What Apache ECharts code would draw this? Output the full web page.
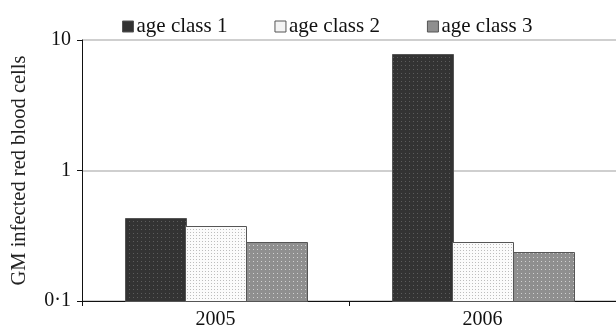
<!DOCTYPE html>
<html>
<head>
<meta charset="utf-8">
<script src="https://cdn.jsdelivr.net/npm/echarts@6/dist/echarts.min.js"></script>
<style>
html,body{margin:0;padding:0;background:#fff;}
#chart{width:616px;height:331px;}
</style>
</head>
<body>
<div id="chart"></div>
<script>
const years = ['2005', '2006'];
const seriesNames = ['age class 1', 'age class 2', 'age class 3'];
const class1 = [0.43, 7.8];
const class2 = [0.375, 0.283];
const class3 = [0.283, 0.236];
const yTicks = [0.1, 1, 10];

// dotted fill textures for the three bar styles
function dots(bg, dot, step) {
  const c = document.createElement('canvas');
  c.width = step; c.height = step;
  const g = c.getContext('2d');
  g.fillStyle = bg; g.fillRect(0, 0, step, step);
  g.fillStyle = dot;
  g.fillRect(1, 1, 1, 1);
  return { image: c, repeat: 'repeat' };
}
const fills = [
  dots('#333333', '#5c5c5c', 4),
  dots('#fbfbfb', '#bdbdbd', 3),
  dots('#8f8f8f', '#d0d0d0', 4)
];
const legendColors = ['#333333', '#f4f4f4', '#8f8f8f'];

const font = 'Liberation Serif, Times New Roman, serif';
const chart = echarts.init(document.getElementById('chart'));
const data = [class1, class2, class3];
const groupFill = 0.68;   // share of each category band covered by the bar group

// bars rise from the bottom of the log axis (0.1) rather than from 1
function barRenderer(idx) {
  return function (params, api) {
    const cat = api.value(0);
    const val = api.value(1);
    const band = api.size([1, 0])[0];
    const bw = band * groupFill / seriesNames.length;
    const top = api.coord([cat, val]);
    const base = api.coord([cat, yTicks[0]]);
    const x = top[0] - band * groupFill / 2 + idx * bw;
    return {
      type: 'rect',
      shape: { x: Math.round(x) + 0.5, y: Math.round(top[1]) + 0.5, width: Math.round(bw), height: Math.round(base[1]) - Math.round(top[1]) },
      style: { fill: fills[idx], stroke: '#555', lineWidth: 1 }
    };
  };
}

chart.setOption({
  animation: false,
  textStyle: { fontFamily: font },
  legend: {
    top: 11,
    left: 117,
    itemWidth: 11,
    itemHeight: 11,
    itemGap: 47,
    icon: 'rect',
    textStyle: { fontFamily: font, fontSize: 21, color: '#111', padding: [0, 0, 0, -2] },
    data: seriesNames.map((n, i) => ({ name: n, itemStyle: { color: legendColors[i], borderColor: '#555', borderWidth: 1 } }))
  },
  grid: { left: 82, right: -4, top: 40, bottom: 30, containLabel: false },
  xAxis: {
    type: 'category',
    data: years,
    axisLine: { lineStyle: { color: '#111', width: 1 } },
    axisTick: { show: true, length: 5, lineStyle: { color: '#111' } },
    axisLabel: { fontFamily: font, fontSize: 20, color: '#111', margin: 9 }
  },
  yAxis: {
    type: 'log',
    logBase: 10,
    min: yTicks[0],
    max: yTicks[yTicks.length - 1],
    name: 'GM infected red blood cells',
    nameLocation: 'middle',
    nameGap: 52,
    nameTextStyle: { fontFamily: font, fontSize: 20.5, color: '#222' },
    axisLine: { show: true, lineStyle: { color: '#111', width: 1 } },
    axisTick: { show: true, length: 5, lineStyle: { color: '#111' } },
    axisLabel: {
      fontFamily: font, fontSize: 20, color: '#111', margin: 11,
      formatter: v => (v < 1 ? String(v).replace('.', '·') : String(v))
    },
    splitLine: { show: true, lineStyle: { color: '#cfcfcf', width: 2 } }
  },
  series: seriesNames.map((n, i) => ({
    name: n,
    type: 'custom',
    itemStyle: { color: legendColors[i] },
    encode: { x: 0, y: 1 },
    data: years.map((y, k) => [k, data[i][k]]),
    renderItem: barRenderer(i)
  }))
});
</script>
</body>
</html>
